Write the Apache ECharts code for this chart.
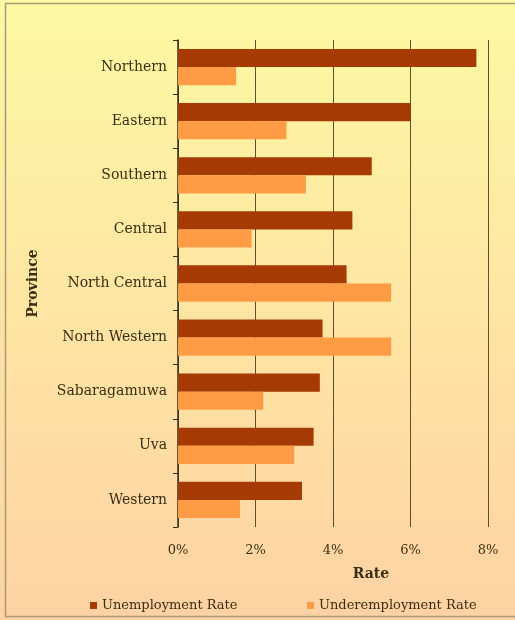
<!DOCTYPE html>
<html>
<head>
<meta charset="utf-8">
<script src="https://cdn.jsdelivr.net/npm/echarts@6/dist/echarts.min.js"></script>
<style>
html,body{margin:0;padding:0;background:#fff;}
#chart{width:515px;height:620px;}
</style>
</head>
<body>
<div id="chart"></div>
<script>
const provinces = ['Northern','Eastern','Southern','Central','North Central','North Western','Sabaragamuwa','Uva','Western'];
const unemploymentRate = [0.077, 0.060, 0.050, 0.045, 0.0435, 0.0373, 0.0366, 0.035, 0.032];
const underemploymentRate = [0.015, 0.028, 0.033, 0.019, 0.055, 0.055, 0.022, 0.030, 0.016];
const xTicks = [0, 0.02, 0.04, 0.06, 0.08];

const serif = 'DejaVu Serif';
const textColor = '#3b2e10';
const chart = echarts.init(document.getElementById('chart'));
chart.setOption({
  animation: false,
  backgroundColor: new echarts.graphic.LinearGradient(0, 0, 0, 1, [
    {offset: 0, color: '#fdf8a2'},
    {offset: 1, color: '#fed2a4'}
  ]),
  graphic: [{
    type: 'rect',
    shape: {x: 5.5, y: 3.5, width: 520, height: 613},
    style: {fill: 'none', stroke: '#a89a78', lineWidth: 1.5},
    silent: true
  }],
  grid: {left: 178, right: 27, top: 40, bottom: 93, containLabel: false},
  legend: [{
    data: ['Unemployment Rate'],
    left: 85, top: 594,
    icon: 'rect', itemWidth: 7, itemHeight: 7, itemGap: 3,
    textStyle: {fontFamily: serif, fontSize: 13, color: textColor}
  }, {
    data: ['Underemployment Rate'],
    left: 302, top: 594,
    icon: 'rect', itemWidth: 7, itemHeight: 7, itemGap: 3,
    textStyle: {fontFamily: serif, fontSize: 13, color: textColor}
  }],
  xAxis: {
    type: 'value',
    min: xTicks[0], max: xTicks[xTicks.length - 1], interval: 0.02,
    name: 'Rate', nameLocation: 'middle', nameGap: 40,
    nameTextStyle: {fontFamily: serif, fontSize: 14, fontWeight: 'bold', color: textColor, padding: [0, 0, 0, 76]},
    axisLine: {show: false},
    axisTick: {show: false},
    axisLabel: {
      fontFamily: serif, fontSize: 13, color: textColor, margin: 17,
      formatter: v => Math.round(v * 100) + '%'
    },
    splitLine: {show: true, lineStyle: {color: '#5e5028', width: 1}}
  },
  yAxis: {
    type: 'category', inverse: true, data: provinces,
    name: 'Province', nameLocation: 'middle', nameGap: 138, nameRotate: 90,
    nameTextStyle: {fontFamily: serif, fontSize: 14, fontWeight: 'bold', color: textColor},
    axisLine: {show: true, lineStyle: {color: '#3b2e10', width: 1.5}},
    axisTick: {show: true, length: 5, lineStyle: {color: '#3b2e10'}},
    axisLabel: {fontFamily: serif, fontSize: 14, color: textColor, margin: 11},
    splitLine: {show: false}
  },
  series: [{
    name: 'Unemployment Rate', type: 'bar', data: unemploymentRate,
    itemStyle: {color: '#a53a05'}, barGap: '0%', barCategoryGap: '33%'
  }, {
    name: 'Underemployment Rate', type: 'bar', data: underemploymentRate,
    itemStyle: {color: '#fe9c45'}, barGap: '0%', barCategoryGap: '33%'
  }]
});
</script>
</body>
</html>
